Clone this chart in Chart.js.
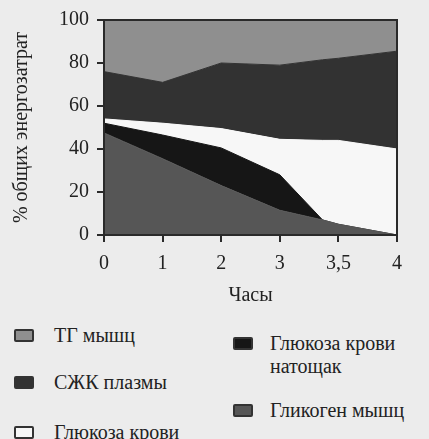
<!DOCTYPE html>
<html>
<head>
<meta charset="utf-8">
<script src="https://cdn.jsdelivr.net/npm/chart.js@4"></script>
<style>
  body { margin: 0; background: #ececec; font-family: 'Liberation Serif', serif !important; }
  #wrap { position: relative; width: 429px; height: 439px; overflow: hidden; }
  #chart { position: absolute; left: 0; top: 0; }
  .leg { position: absolute; font-size: 20px; color: #222; line-height: 23px; white-space: nowrap; }
  .leg i { position: absolute; width: 20px; height: 13px; box-sizing: border-box; border: 2px solid #333; border-radius: 2px; }
</style>
</head>
<body>
<div id="wrap">
  <canvas id="chart" width="429" height="312"></canvas>
  <div id="legend"></div>
</div>
<script>
// позиции точек по оси (деления равномерные) и подписи делений
const axisPos = [0, 1, 2, 3, 3.73, 4, 5];
const hourLabels = ['0', '1', '2', '3', '3,5', '4'];

// вклад каждого источника, % (снизу вверх)
const glycogen = [47.5, 35.5, 23, 11.5, 7, 5, 0];
const glucoseFasting = [4.5, 11, 17.5, 16.5, 0, 0, 0];
const glucoseBlood = [2, 5.5, 9, 16.5, 37, 39, 40];
const ffaPlasma = [22, 19, 30.5, 34.5, 37.5, 38.2, 45.5];
const tgMuscle = [24, 29, 20, 21, 18.5, 17.8, 14.5];

const series = [
  { label: 'Гликоген мышц', data: glycogen, color: '#565656' },
  { label: 'Глюкоза крови натощак', data: glucoseFasting, color: '#161616' },
  { label: 'Глюкоза крови', data: glucoseBlood, color: '#f7f7f7' },
  { label: 'СЖК плазмы', data: ffaPlasma, color: '#323232' },
  { label: 'ТГ мышц', data: tgMuscle, color: '#8f8f8f' }
];

const frame = {
  id: 'frame',
  afterDatasetsDraw(chart) {
    const a = chart.chartArea, c = chart.ctx;
    c.save();
    c.strokeStyle = '#2a2a2a';
    c.lineWidth = 2;
    c.strokeRect(a.left, a.top, a.right - a.left, a.bottom - a.top);
    c.restore();
  }
};

const serif = 'Liberation Serif';
Chart.defaults.font.family = serif;

const chart = new Chart(document.getElementById('chart'), {
  type: 'line',
  data: {
    datasets: series.map((s, i) => ({
      label: s.label,
      data: s.data.map((v, j) => ({ x: axisPos[j], y: v })),
      backgroundColor: s.color,
      borderColor: s.color,
      borderWidth: 1,
      pointRadius: 0,
      tension: 0,
      fill: i === 0 ? 'origin' : '-1'
    }))
  },
  options: {
    responsive: false,
    animation: false,
    layout: { padding: { left: 6, right: 32, top: 17, bottom: 0 } },
    plugins: { legend: { display: false }, tooltip: { enabled: false } },
    scales: {
      x: {
        type: 'linear',
        min: 0, max: 5,
        afterFit: s => { s.height = 77; },
        afterBuildTicks: s => { s.ticks = hourLabels.map((_, i) => ({ value: i })); },
        grid: { drawOnChartArea: false, color: '#2a2a2a', tickLength: 7, lineWidth: 2 },
        border: { color: '#2a2a2a', width: 2 },
        ticks: {
          callback: v => hourLabels[v],
          color: '#222', padding: 10,
          font: { family: serif, size: 20 },
          maxRotation: 0
        },
        title: { display: true, text: 'Часы', color: '#222', padding: { top: 4 }, font: { family: serif, size: 20 } }
      },
      y: {
        stacked: true,
        min: 0, max: 100,
        afterFit: s => { s.width = 98; },
        grid: { drawOnChartArea: false, color: '#2a2a2a', tickLength: 7, lineWidth: 2 },
        border: { color: '#2a2a2a', width: 2 },
        ticks: { stepSize: 20, color: '#222', padding: 8, font: { family: serif, size: 20 } },
        title: { display: true, text: '% общих энергозатрат', color: '#222', padding: { bottom: 2 }, font: { family: serif, size: 20 } }
      }
    }
  },
  plugins: [frame]
});

// легенда в две колонки, как в оригинале
const legendItems = [
  { i: 4, x: 14, y: 324 },
  { i: 3, x: 14, y: 371 },
  { i: 2, x: 14, y: 421 },
  { i: 1, x: 233, y: 332 },
  { i: 0, x: 233, y: 399 }
];
const legend = document.getElementById('legend');
legendItems.forEach(it => {
  const s = series[it.i];
  const d = document.createElement('div');
  d.className = 'leg';
  d.style.left = it.x + 'px';
  d.style.top = it.y + 'px';
  d.style.setProperty('font-family', "'Liberation Serif', serif", 'important');
  d.innerHTML = '<i style="left:0;top:5px;background:' + s.color + '"></i>' +
    '<span style="display:block;margin-left:' + (it.x > 200 ? 37 : 40) + 'px">' +
    (s.label === 'Глюкоза крови натощак' ? 'Глюкоза крови<br>натощак' : s.label) + '</span>';
  legend.appendChild(d);
});
</script>
</body>
</html>
